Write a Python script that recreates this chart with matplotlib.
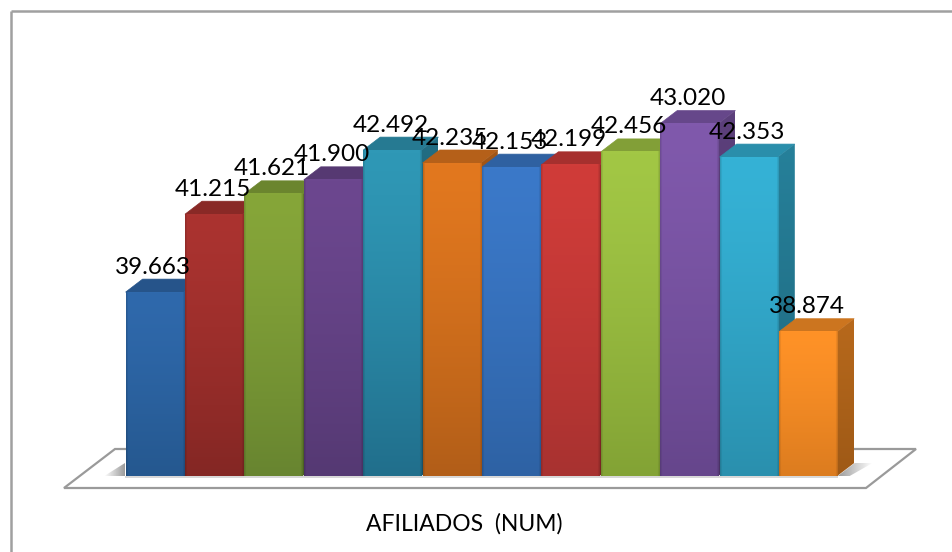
import numpy as np
import matplotlib
matplotlib.use("Agg")
import matplotlib.pyplot as plt
from matplotlib.colors import to_rgb
from matplotlib.patches import Polygon

# afiliados por periodo
valores = [39663, 41215, 41621, 41900, 42492, 42235, 42153, 42199, 42456, 43020, 42353, 38874]
etiquetas = ["39.663", "41.215", "41.621", "41.900", "42.492", "42.235",
             "42.153", "42.199", "42.456", "43.020", "42.353", "38.874"]

# color arriba y abajo de la cara frontal
color_sup = ["#2F69AC", "#AB3330", "#86A639", "#6C478F", "#2F98B6", "#E2781F",
             "#3B79C9", "#D03C39", "#A2C745", "#8059AC", "#35B2D6", "#FF9227"]
color_inf = ["#25588F", "#842724", "#688530", "#553973", "#216F8C", "#B25E18",
             "#2E62A4", "#A83230", "#83A335", "#66468C", "#2A90AE", "#DC7C1F"]

W, H = 953, 552
base = 36000
px_x = 59.4          # pixeles por barra
px_y = 0.0502        # pixeles por afiliado
x0, y0 = 125, 476    # esquina de la primera barra
dx = 17 / px_x       # profundidad en unidades de datos
dy = 13 / px_y

plt.rcParams['font.family'] = ['Lato', 'DejaVu Sans']

fig = plt.figure(figsize=(W / 100, H / 100), dpi=100)
ax = fig.add_axes([0, 0, 1, 1])
ax.set_xlim(-x0 / px_x, (W - x0) / px_x)
ax.set_ylim(base - (H - y0) / px_y, base + y0 / px_y)
ax.axis("off")


def oscurece(c, f):
    return tuple(np.array(to_rgb(c)) * f)


def cara(a, b, arriba, abajo, z):
    # rectangulo con degradado vertical y bordes algo mas oscuros
    t = np.linspace(0, 1, 64)[:, None, None] ** 1.3
    s = np.linspace(0, 1, 60)
    borde = 1 - 0.14 * np.clip(1 - np.minimum(s, 1 - s) / 0.035, 0, 1)
    img = (1 - t) * np.array(to_rgb(arriba)) + t * np.array(to_rgb(abajo))
    img = img * borde[None, :, None]
    ax.imshow(img, extent=[a, b, base, z], aspect="auto", origin="upper",
              interpolation="bilinear", zorder=3)


def sombra(a, b, forma, invertir):
    # sombra que se desvanece sobre el suelo
    capa = np.ones((2, 40, 4))
    capa[..., :3] = 0.35
    capa[..., 3] = np.linspace(0.6, 0, 40)
    if invertir:
        capa = capa[:, ::-1]
    im = ax.imshow(capa, extent=[a, b, base, base + dy], aspect="auto",
                   interpolation="bilinear", zorder=2)
    im.set_clip_path(Polygon(forma, transform=ax.transData))


# suelo y marco
suelo = Polygon(ax.transData.inverted().transform([(64, 552 - 488), (115, 552 - 449), (916, 552 - 449), (866, 552 - 488)]),
                closed=True, fc="white", ec="#9A9A9A", lw=1.6, zorder=1)
ax.add_patch(suelo)
ax.plot([11 / W, 11 / W], [0, 1 - 11 / H], color="#A0A0A0", lw=1.8, transform=ax.transAxes, zorder=1, solid_capstyle="butt")
ax.plot([11 / W, 1], [1 - 11 / H, 1 - 11 / H], color="#A0A0A0", lw=1.8, transform=ax.transAxes, zorder=1, solid_capstyle="butt")

n = len(valores)
sombra(n, n + dx + 0.3, [(n, base), (n + dx, base + dy), (n + dx + 0.3, base + dy), (n + 0.2, base)], False)
sombra(-0.35, 0, [(-0.35, base), (0, base + dy), (0, base)], True)
ax.fill_between([0, n], base - 30, base, color="#D8D8D8", lw=0, zorder=2)

# barras de izquierda a derecha, cada una tapa el lateral de la anterior
for i, v in enumerate(valores):
    a, b = i + 0.01, i + 0.99
    techo = oscurece(color_sup[i], 0.8)
    lado_a = oscurece(color_sup[i], 0.72)
    lado_b = oscurece(color_inf[i], 0.72)
    ax.add_patch(Polygon([(a, v), (a + dx, v + dy), (b + dx, v + dy), (b, v)], fc=techo, ec=techo, lw=0.5, zorder=3))
    t = np.linspace(0, 1, 64)[:, None, None]
    img = (1 - t) * np.array(lado_a) + t * np.array(lado_b)
    im = ax.imshow(img, extent=[b, b + dx, base, v + dy], aspect="auto", interpolation="bilinear", zorder=3)
    im.set_clip_path(Polygon([(b, base), (b + dx, base + dy), (b + dx, v + dy), (b, v)], transform=ax.transData))
    cara(a, b, color_sup[i], color_inf[i], v)

for i, (v, e) in enumerate(zip(valores, etiquetas)):
    ax.annotate(e, (i + 0.5, v), xytext=(-1, 25 * 0.72), textcoords="offset points",
                ha="center", va="center", fontsize=17.5, color="black", zorder=5)

ax.text(464 / W, 1 - 524 / H, "AFILIADOS  (NUM)", transform=ax.transAxes, ha="center", va="center",
        fontsize=16.5, color="black", zorder=5)

ax.set_xlim(-x0 / px_x, (W - x0) / px_x)
ax.set_ylim(base - (H - y0) / px_y, base + y0 / px_y)
fig.savefig("out.png", dpi=100)
